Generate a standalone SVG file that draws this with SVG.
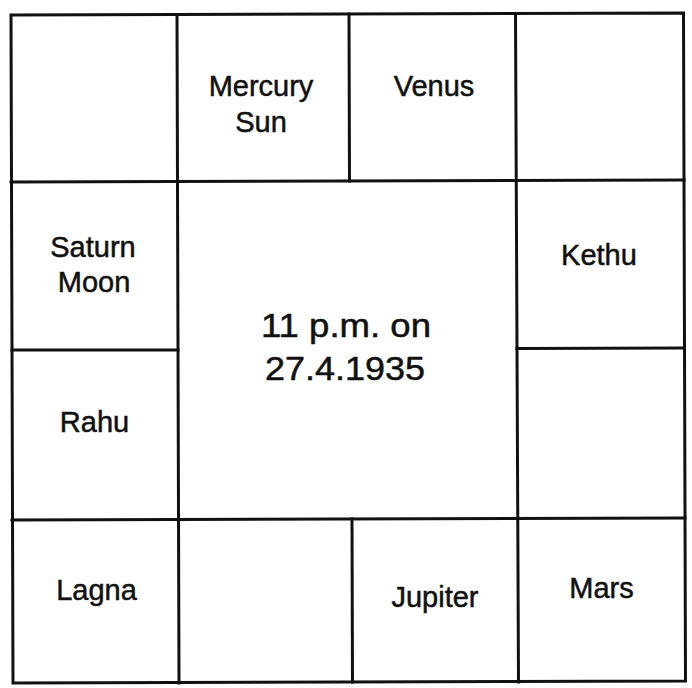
<svg xmlns="http://www.w3.org/2000/svg" width="692" height="688" viewBox="0 0 692 688">
<style>
.ln{stroke:#111;stroke-width:3;fill:none;stroke-linecap:square}
.t{font-family:"Liberation Sans",Arial,Helvetica,sans-serif;font-size:29px;fill:#111;stroke:#111;stroke-width:0.5;text-anchor:middle}
.c{font-family:"Liberation Sans",Arial,Helvetica,sans-serif;font-size:32.5px;fill:#111;stroke:#111;stroke-width:0.5;text-anchor:middle}
</style>
<rect width="692" height="688" fill="#fff"/>
<g id="grid">
<path class="ln" d="M11,15 L683.5,13 L685.5,681 L13,683 Z"/>
<line class="ln" x1="177" y1="15" x2="179" y2="683"/>
<line class="ln" x1="515.5" y1="14" x2="518.5" y2="682"/>
<line class="ln" x1="11" y1="182" x2="684" y2="180"/>
<line class="ln" x1="12" y1="520" x2="685" y2="518"/>
<line class="ln" x1="349" y1="14" x2="349.5" y2="181"/>
<line class="ln" x1="352" y1="519" x2="352.5" y2="682"/>
<line class="ln" x1="12" y1="350" x2="178" y2="350"/>
<line class="ln" x1="517" y1="348.5" x2="684.5" y2="348"/>
</g>
<g id="cell-top-left"></g>
<g id="cell-mercury-sun">
<text class="t" x="261" y="96">Mercury</text>
<text class="t" x="261" y="132">Sun</text>
</g>
<g id="cell-venus"><text class="t" x="434" y="96">Venus</text></g>
<g id="cell-top-right"></g>
<g id="cell-saturn-moon">
<text class="t" x="93" y="257">Saturn</text>
<text class="t" x="94" y="292">Moon</text>
</g>
<g id="cell-kethu"><text class="t" x="599" y="265">Kethu</text></g>
<g id="center">
<text class="c" x="346" y="337" textLength="170" lengthAdjust="spacingAndGlyphs">11 p.m. on</text>
<text class="c" x="345" y="380" textLength="160" lengthAdjust="spacingAndGlyphs">27.4.1935</text>
</g>
<g id="cell-rahu"><text class="t" x="94.5" y="432">Rahu</text></g>
<g id="cell-right-empty"></g>
<g id="cell-lagna"><text class="t" x="96.5" y="600">Lagna</text></g>
<g id="cell-bottom-empty"></g>
<g id="cell-jupiter"><text class="t" x="435" y="607">Jupiter</text></g>
<g id="cell-mars"><text class="t" x="601.5" y="598">Mars</text></g>
</svg>
